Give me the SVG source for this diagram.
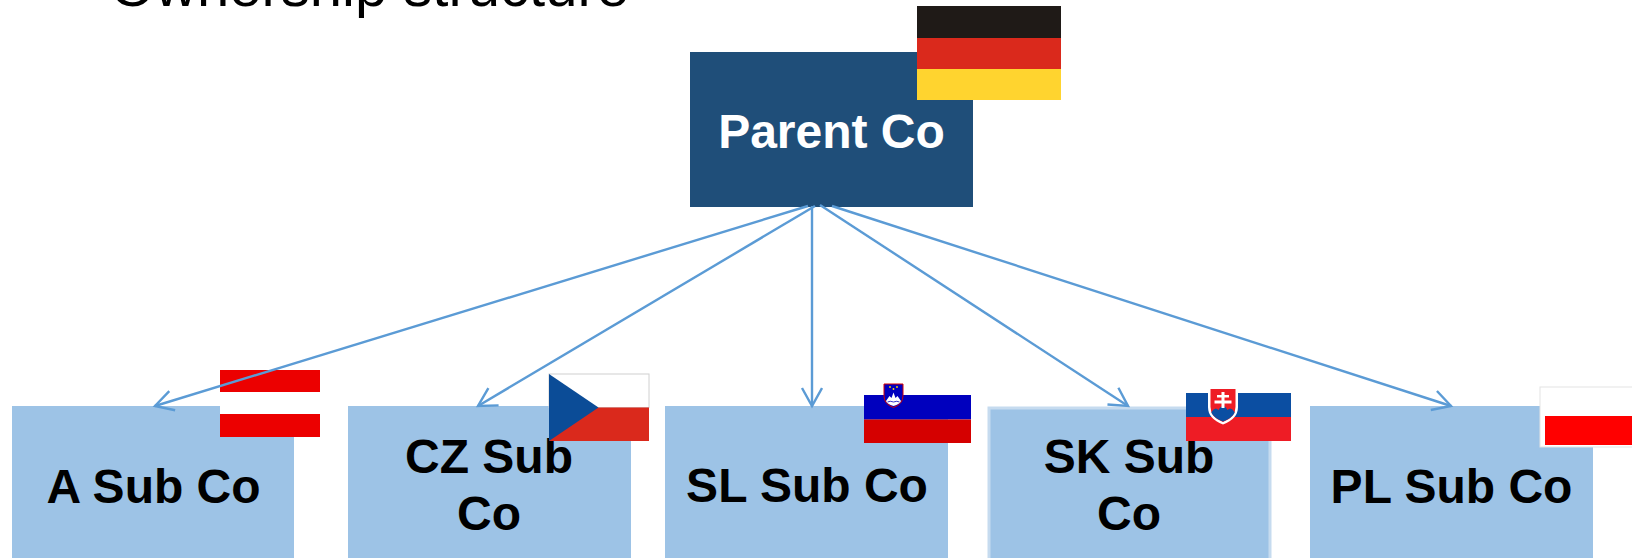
<svg xmlns="http://www.w3.org/2000/svg" width="1632" height="558" viewBox="0 0 1632 558">
<style>
.sub{fill:#9DC3E6}
.lbl{font-family:"Liberation Sans",Arial,sans-serif;font-weight:bold;font-size:48px;fill:#000;text-anchor:middle}
.conn{stroke:#5B9BD5;stroke-width:2.4;fill:none}
</style>
<defs>
<marker id="arr" markerUnits="userSpaceOnUse" markerWidth="24" markerHeight="24" refX="19" refY="11" orient="auto">
<path d="M1,1 L19,11 L1,21" fill="none" stroke="#5B9BD5" stroke-width="2.4"/>
</marker>
</defs>
<rect width="1632" height="558" fill="#fff"/>
<text x="110" y="6" font-family="'Liberation Sans',Arial,sans-serif" font-size="58" fill="#000">Ownership structure</text>

<g id="parent">
<rect x="690" y="52" width="283" height="155" fill="#1F4E79"/>
<text x="831.5" y="148" class="lbl" style="fill:#fff">Parent Co</text>
<g id="flag-de">
<rect x="917" y="6" width="144" height="32" fill="#1F1A17"/>
<rect x="917" y="38" width="144" height="31" fill="#DA291C"/>
<rect x="917" y="69" width="144" height="31" fill="#FFD42F"/>
</g>
</g>

<g id="sub-a">
<rect class="sub" x="12" y="406" width="282" height="154"/>
<text class="lbl" x="153.5" y="503">A Sub Co</text>
<g id="flag-at">
<rect x="220" y="370" width="100" height="22" fill="#EC0000"/>
<rect x="220" y="392" width="100" height="22" fill="#fff"/>
<rect x="220" y="414" width="100" height="23" fill="#EC0000"/>
</g>
</g>

<g id="sub-cz">
<rect class="sub" x="348" y="406" width="283" height="154"/>
<text class="lbl" x="489" y="473">CZ Sub</text>
<text class="lbl" x="489" y="530">Co</text>
<g id="flag-cz">
<rect x="549" y="374" width="100" height="33.5" fill="#fff" stroke="#D0D0D0" stroke-width="1"/>
<rect x="549" y="407.5" width="100" height="33.5" fill="#DA291C"/>
<polygon points="549,374 598.5,407.5 549,441" fill="#0B4C97"/>
</g>
</g>

<g id="sub-sl">
<rect class="sub" x="665" y="406" width="283" height="154"/>
<text class="lbl" x="807" y="502">SL Sub Co</text>
<g id="flag-si">
<rect x="864" y="374" width="107" height="21" fill="#fff"/>
<rect x="864" y="395" width="107" height="24.5" fill="#0000BE"/>
<rect x="864" y="419.5" width="107" height="23.5" fill="#D50000"/>
<path d="M884,384 L903,384 L903,396 Q903,404 893.5,407.5 Q884,404 884,396 Z" fill="#0000BE" stroke="#D50000" stroke-width="1"/>
<path d="M886,401 L889.5,396 L891.5,398 L893.5,392.5 L895.5,398 L897.5,396 L901,401 Q900,404 893.5,406 Q887,404 886,401 Z" fill="#fff"/>
<path d="M887.5,402 Q890,400.5 893.5,402 Q897,400.5 899.5,402" fill="none" stroke="#0000BE" stroke-width="0.8"/>
<circle cx="890" cy="387" r="0.9" fill="#FFD700"/>
<circle cx="897" cy="387" r="0.9" fill="#FFD700"/>
<circle cx="893.5" cy="389" r="0.9" fill="#FFD700"/>
</g>
</g>

<g id="sub-sk">
<rect class="sub" x="989" y="408" width="281" height="154" stroke="#C6DBEF" stroke-width="3"/>
<text class="lbl" x="1129" y="473">SK Sub</text>
<text class="lbl" x="1129" y="530">Co</text>
<g id="flag-sk">
<rect x="1186" y="393" width="105" height="24" fill="#0B4EA2"/>
<rect x="1186" y="417" width="105" height="24" fill="#EE1C25"/>
<path d="M1208,387 L1238,387 L1238,407 Q1238,419 1223,424.5 Q1208,419 1208,407 Z" fill="#fff"/>
<path d="M1210.5,389 L1235.5,389 L1235.5,407 Q1235.5,417.5 1223,422 Q1210.5,417.5 1210.5,407 Z" fill="#EE1C25"/>
<path d="M1211.5,412 Q1215,406 1218.5,410 Q1223,402 1227.5,410 Q1231,406 1234.5,412 L1234.5,413 Q1232,418 1223,421.5 Q1214,418 1211.5,413 Z" fill="#0B4EA2"/>
<rect x="1221.5" y="392" width="3" height="16" fill="#fff"/>
<rect x="1217" y="395" width="12" height="2.5" fill="#fff"/>
<rect x="1214.5" y="400.5" width="17" height="3" fill="#fff"/>
</g>
</g>

<g id="sub-pl">
<rect class="sub" x="1310" y="406" width="283" height="154"/>
<text class="lbl" x="1451.5" y="503">PL Sub Co</text>
<g id="flag-pl">
<rect x="1540" y="387" width="94" height="60" fill="#fff" stroke="#E4E4E4" stroke-width="1"/>
<rect x="1545" y="416" width="89" height="29" fill="#FF0000"/>
</g>
</g>

<g id="connectors" class="conn">
<line x1="808" y1="206" x2="155" y2="406" marker-end="url(#arr)"/>
<line x1="815" y1="206" x2="478" y2="406" marker-end="url(#arr)"/>
<line x1="812" y1="206" x2="812" y2="406" marker-end="url(#arr)"/>
<line x1="820" y1="205" x2="1128" y2="406" marker-end="url(#arr)"/>
<line x1="832" y1="206" x2="1451" y2="406" marker-end="url(#arr)"/>
</g>
</svg>
